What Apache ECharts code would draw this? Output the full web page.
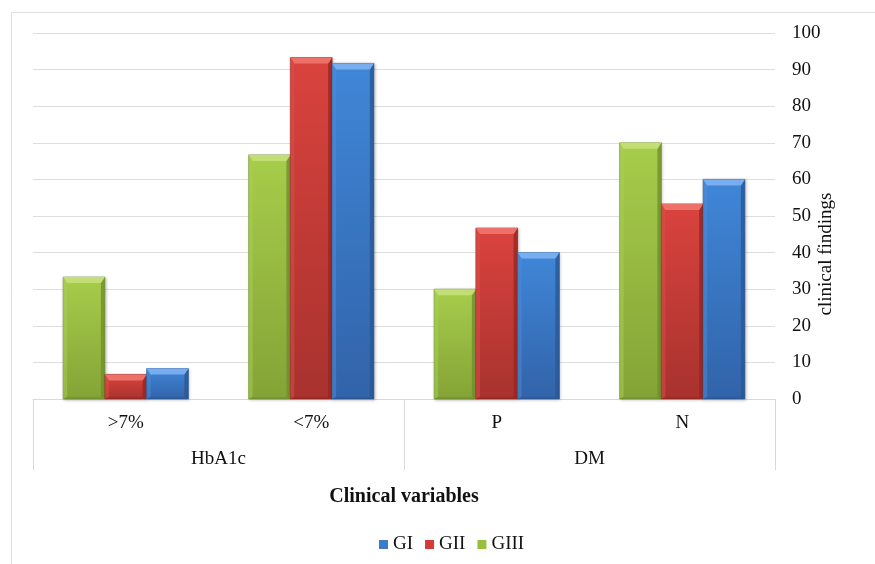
<!DOCTYPE html>
<html>
<head>
<meta charset="utf-8">
<script src="https://cdn.jsdelivr.net/npm/echarts@6/dist/echarts.min.js"></script>
<style>
  html, body { margin: 0; padding: 0; background: #ffffff; }
  #chart { width: 875px; height: 564px; }
</style>
</head>
<body>
<div id="chart"></div>
<script>
// Sub-categories along the x axis and the groups they belong to
const categories = ['>7%', '<7%', 'P', 'N'];
const groups = ['HbA1c', 'DM'];

// Values per group (percent)
const gIII = [33.3, 66.7, 30.0, 70.0];
const gII = [6.7, 93.3, 46.7, 53.3];
const gI = [8.3, 91.7, 40.0, 60.0];

const yTicks = { min: 0, max: 100, interval: 10 };

const FONT = '"Liberation Serif", "DejaVu Serif", serif';

// Face / bevel shades for each colour
const palettes = {
  green: { base: '#98bf3c', top: '#a7cd4b', bottom: '#84a336', bevel: '#c2de75', left: '#aed35a', right: '#718f2e', edge: '#6a872a' },
  red:   { base: '#d33c36', top: '#da433e', bottom: '#a8322e', bevel: '#ee7169', left: '#e0524b', right: '#962723', edge: '#8a2420' },
  blue:  { base: '#3a7ccc', top: '#4087d8', bottom: '#3163a9', bevel: '#78aef0', left: '#4e90de', right: '#2b5794', edge: '#28508a' }
};

const BAR_FRACTION = 0.225;

// Bevelled bar drawn from the axis coordinates of its value
function bevelBar(slot, pal) {
  return function (params, api) {
    const cat = api.value(0);
    const val = api.value(1);
    const band = api.size([1, 0])[0];
    const w = band * BAR_FRACTION;
    const base = api.coord([cat, 0]);
    const top = api.coord([cat, val]);
    const x0 = base[0] - 1.5 * w + slot * w;
    const x1 = x0 + w;
    const y0 = top[1];
    const y1 = base[1];
    const h = y1 - y0;
    const bx = Math.min(4, w / 4);
    const by = Math.min(6, h / 2);
    const bb = Math.min(2, h / 4);
    return {
      type: 'group',
      children: [
        {
          type: 'rect',
          shape: { x: x0, y: y0, width: w, height: h },
          style: {
            fill: new echarts.graphic.LinearGradient(0, 0, 0, 1, [
              { offset: 0, color: pal.top },
              { offset: 1, color: pal.bottom }
            ]),
            stroke: pal.edge,
            lineWidth: 0.6,
            shadowBlur: 3,
            shadowOffsetX: 1,
            shadowOffsetY: 1,
            shadowColor: 'rgba(0,0,0,0.25)'
          }
        },
        {
          type: 'polygon',
          shape: { points: [[x0, y0], [x0 + bx, y0 + by], [x0 + bx, y1 - bb], [x0, y1]] },
          style: { fill: pal.left, opacity: 0.5 }
        },
        {
          type: 'polygon',
          shape: { points: [[x1, y0], [x1 - bx, y0 + by], [x1 - bx, y1 - bb], [x1, y1]] },
          style: { fill: pal.right, opacity: 0.8 }
        },
        {
          type: 'polygon',
          shape: { points: [[x0, y1], [x1, y1], [x1 - bx, y1 - bb], [x0 + bx, y1 - bb]] },
          style: { fill: pal.right, opacity: 0.6 }
        },
        {
          type: 'polygon',
          shape: { points: [[x0, y0], [x1, y0], [x1 - bx, y0 + by], [x0 + bx, y0 + by]] },
          style: { fill: pal.bevel }
        }
      ]
    };
  };
}

function pairs(values) {
  return values.map((v, i) => [i, v]);
}

const chart = echarts.init(document.getElementById('chart'), null, { renderer: 'canvas' });

chart.setOption({
  backgroundColor: '#ffffff',
  animation: false,
  textStyle: { fontFamily: FONT },
  grid: { left: 33, right: 100, top: 33, bottom: 165, containLabel: false },
  legend: {
    data: ['GI', 'GII', 'GIII'],
    top: 530,
    left: 374,
    icon: 'rect',
    itemWidth: 9,
    itemHeight: 9,
    itemGap: 12,
    textStyle: { fontFamily: FONT, fontSize: 19, color: '#111' }
  },
  xAxis: [
    {
      type: 'category',
      data: categories,
      position: 'bottom',
      axisLine: { show: true, lineStyle: { color: '#d9d9d9', width: 1 } },
      axisTick: { show: false },
      axisLabel: { margin: 15, fontFamily: FONT, fontSize: 19, color: '#111' },
      splitLine: { show: false }
    },
    {
      type: 'category',
      data: groups,
      position: 'bottom',
      gridIndex: 0,
      axisLine: { show: false },
      axisTick: { show: true, length: 71, lineStyle: { color: '#d9d9d9' } },
      axisLabel: { margin: 51, fontFamily: FONT, fontSize: 19, color: '#111' },
      name: 'Clinical variables',
      nameLocation: 'middle',
      nameGap: 88,
      nameTextStyle: { fontFamily: FONT, fontSize: 20, fontWeight: 'bold', color: '#111' }
    }
  ],
  yAxis: {
    type: 'value',
    position: 'right',
    min: yTicks.min,
    max: yTicks.max,
    interval: yTicks.interval,
    axisLine: { show: false },
    axisTick: { show: false },
    axisLabel: { margin: 17, fontFamily: FONT, fontSize: 19, color: '#111' },
    splitLine: { lineStyle: { color: '#dedede', width: 1 } }
  },
  graphic: [
    {
      type: 'rect',
      left: 9, top: 10,
      shape: { x: 0.5, y: 0.5, width: 1000, height: 1000 },
      style: { fill: 'none', stroke: '#e0e0e0', lineWidth: 1 },
      silent: true,
      z: -1
    },
    {
      type: 'text',
      x: 826, y: 254,
      rotation: Math.PI / 2,
      style: {
        text: 'clinical findings',
        fontFamily: FONT,
        fontSize: 19,
        fill: '#111',
        align: 'center',
        verticalAlign: 'middle'
      }
    }
  ],
  series: [
    {
      name: 'GIII', type: 'custom', xAxisIndex: 0,
      itemStyle: { color: palettes.green.base },
      renderItem: bevelBar(0, palettes.green),
      encode: { x: 0, y: 1 },
      data: pairs(gIII)
    },
    {
      name: 'GII', type: 'custom', xAxisIndex: 0,
      itemStyle: { color: palettes.red.base },
      renderItem: bevelBar(1, palettes.red),
      encode: { x: 0, y: 1 },
      data: pairs(gII)
    },
    {
      name: 'GI', type: 'custom', xAxisIndex: 0,
      itemStyle: { color: palettes.blue.base },
      renderItem: bevelBar(2, palettes.blue),
      encode: { x: 0, y: 1 },
      data: pairs(gI)
    }
  ]
});
</script>
</body>
</html>
